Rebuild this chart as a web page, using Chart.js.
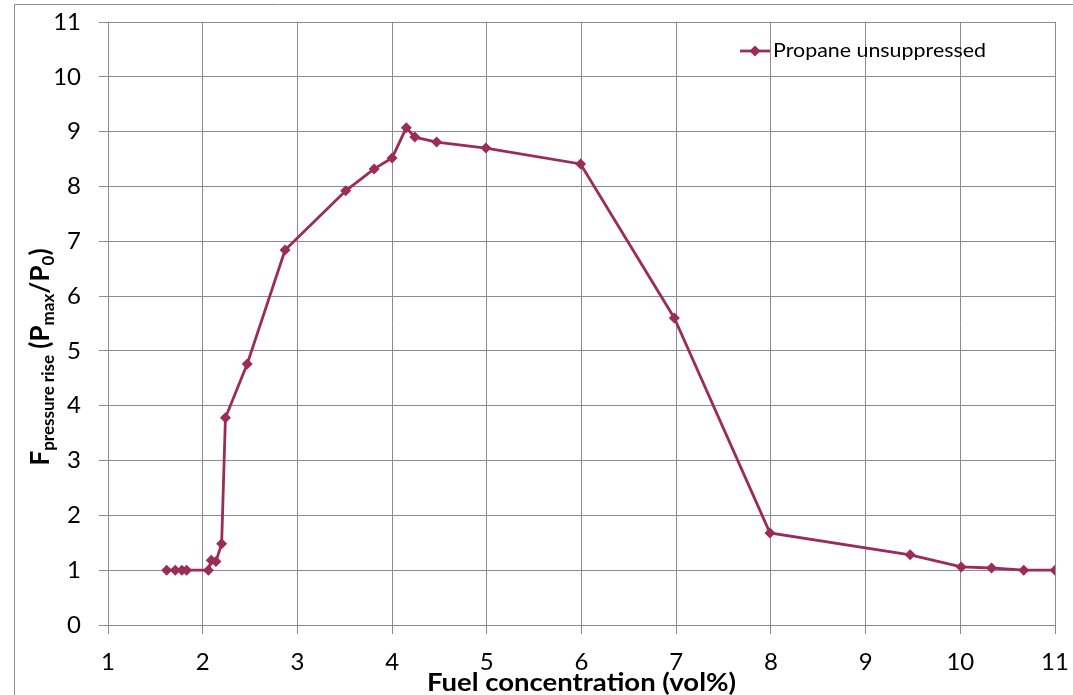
<!DOCTYPE html>
<html>
<head>
<meta charset="utf-8">
<script src="https://cdn.jsdelivr.net/npm/chart.js@4/dist/chart.umd.min.js"></script>
<style>
  html, body { margin: 0; padding: 0; background: #fff; }
  #wrap { width: 1073px; height: 695px; position: relative; }
</style>
</head>
<body>
<div id="wrap"><canvas id="myChart" width="1073" height="695"></canvas></div>
<script>
// values
const fuelConc = [1.62, 1.71, 1.78, 1.83, 2.06, 2.09, 2.14, 2.20, 2.24, 2.47, 2.87, 3.51, 3.81, 4.00, 4.15, 4.24, 4.47, 4.99, 5.99, 6.98, 7.99, 9.47, 10.01, 10.33, 10.67, 11.0];
const pressureRise = [1.0, 1.0, 1.0, 1.0, 1.0, 1.18, 1.16, 1.48, 3.78, 4.76, 6.84, 7.92, 8.32, 8.52, 9.07, 8.9, 8.81, 8.7, 8.41, 5.6, 1.68, 1.28, 1.06, 1.04, 1.0, 1.0];
const seriesName = 'Propane unsuppressed';
const xTicks = [1, 2, 3, 4, 5, 6, 7, 8, 9, 10, 11];
const yTicks = [0, 1, 2, 3, 4, 5, 6, 7, 8, 9, 10, 11];

const lineColor = '#9b2c58';
const gridColor = '#8c8c8c';
const fontFam = 'Lato, "Liberation Sans", sans-serif';

const points = fuelConc.map((x, i) => ({ x: x, y: pressureRise[i] }));

// outer frame, axis titles + legend drawn by hand (subscripts, legend inside plot)
const extrasPlugin = {
  id: 'extras',
  afterDraw(chart) {
    const ctx = chart.ctx;
    const area = chart.chartArea;

    ctx.save();
    ctx.strokeStyle = gridColor;
    ctx.lineWidth = 1;
    ctx.beginPath();
    ctx.moveTo(14.5, 700);
    ctx.lineTo(14.5, 4.5);
    ctx.lineTo(1080, 4.5);
    ctx.stroke();
    ctx.restore();

    // x title
    ctx.save();
    ctx.fillStyle = '#000';
    ctx.font = 'bold 25px ' + fontFam;
    ctx.textAlign = 'center';
    ctx.textBaseline = 'middle';
    ctx.translate((area.left + area.right) / 2, 683);
    ctx.scale(1.1, 1);
    ctx.fillText('Fuel concentration (vol%)', 0, 0);
    ctx.restore();

    // y title with subscripts
    ctx.save();
    ctx.fillStyle = '#000';
    const parts = [
      ['F', false], ['pressure rise', true], [' (P', false], ['max', true],
      ['/P', false], ['0', true], [')', false]
    ];
    const big = 'bold 26px ' + fontFam;
    const small = 'bold 17px ' + fontFam;
    let total = 0;
    parts.forEach(p => { ctx.font = p[1] ? small : big; total += ctx.measureText(p[0]).width; });
    ctx.translate(40, 357);
    ctx.rotate(-Math.PI / 2);
    ctx.textAlign = 'left';
    ctx.textBaseline = 'alphabetic';
    let cx = -total / 2;
    parts.forEach(p => {
      ctx.font = p[1] ? small : big;
      ctx.fillText(p[0], cx, p[1] ? 14 : 9);
      cx += ctx.measureText(p[0]).width;
    });
    ctx.restore();

    // legend
    ctx.save();
    const ly = 51;
    ctx.strokeStyle = lineColor;
    ctx.lineWidth = 2.8;
    ctx.beginPath();
    ctx.moveTo(740, ly);
    ctx.lineTo(770, ly);
    ctx.stroke();
    ctx.fillStyle = lineColor;
    ctx.beginPath();
    ctx.moveTo(755, ly - 5.5);
    ctx.lineTo(760.5, ly);
    ctx.lineTo(755, ly + 5.5);
    ctx.lineTo(749.5, ly);
    ctx.closePath();
    ctx.fill();
    ctx.fillStyle = '#000';
    ctx.font = '20px ' + fontFam;
    ctx.textAlign = 'left';
    ctx.textBaseline = 'middle';
    ctx.translate(773, ly);
    ctx.scale(1.07, 1);
    ctx.fillText(seriesName, 0, 0);
    ctx.restore();
  }
};

new Chart(document.getElementById('myChart').getContext('2d'), {
  type: 'line',
  data: {
    datasets: [{
      label: seriesName,
      data: points,
      borderColor: lineColor,
      backgroundColor: lineColor,
      borderWidth: 2.8,
      pointStyle: 'rectRot',
      pointRadius: 5.5,
      pointBorderWidth: 0,
      tension: 0
    }]
  },
  options: {
    responsive: false,
    animation: false,
    layout: { padding: { top: 22, right: 18, left: 0, bottom: 0 } },
    plugins: { legend: { display: false }, tooltip: { enabled: false } },
    scales: {
      x: {
        type: 'linear',
        min: 1, max: 11,
        afterBuildTicks: (s) => { s.ticks = xTicks.map(v => ({ value: v })); },
        afterFit: (s) => { s.height = 70; s.paddingLeft = 0; s.paddingRight = 0; },
        grid: { color: gridColor, lineWidth: 1, tickLength: 9 },
        border: { color: gridColor },
        ticks: { color: '#000', font: { family: fontFam, size: 24 }, padding: 14, maxRotation: 0 }
      },
      y: {
        min: 0, max: 11,
        afterBuildTicks: (s) => { s.ticks = yTicks.map(v => ({ value: v })); },
        afterFit: (s) => { s.width = 108; s.paddingTop = 0; s.paddingBottom = 0; },
        grid: { color: gridColor, lineWidth: 1, tickLength: 9 },
        border: { color: gridColor },
        ticks: { color: '#000', font: { family: fontFam, size: 24 }, padding: 18 }
      }
    }
  },
  plugins: [extrasPlugin]
});
</script>
</body>
</html>
